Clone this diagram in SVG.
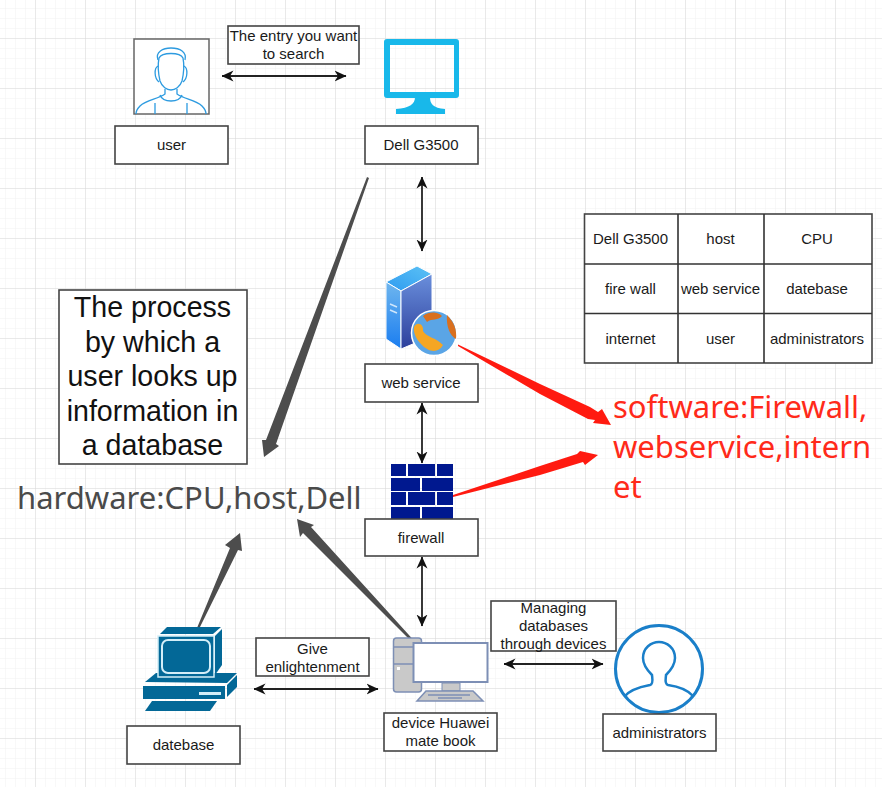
<svg xmlns="http://www.w3.org/2000/svg" width="882" height="787" viewBox="0 0 882 787">
<style>
.box{fill:#fff;stroke:#444;stroke-width:1.6}
.t{font-family:"Liberation Sans",Arial,sans-serif;font-size:15px;fill:#1a1a1a;text-anchor:middle}
.big{font-family:"Liberation Sans",Arial,sans-serif;font-size:28.6px;fill:#111;text-anchor:middle}
.cjk{font-family:"Noto Sans","Open Sans",sans-serif;font-size:31px}
.arr{fill:none;stroke:#222;stroke-width:1.8;marker-start:url(#ah);marker-end:url(#ah)}
.grey{fill:#4d4d4d}
.red{fill:#ff1a10}
.pl{fill:none;stroke:#2d9be0;stroke-width:1.3}
.teal{fill:#036897}
</style>
<defs>
<pattern id="minor" width="10" height="10" patternUnits="userSpaceOnUse" patternTransform="translate(5,8)">
<path d="M0,0H10M0,0V10" fill="none" stroke="#f1f1f1" stroke-width="1"/>
</pattern>
<pattern id="major" width="50" height="50" patternUnits="userSpaceOnUse" patternTransform="translate(35,38)">
<path d="M0,0H50M0,0V50" fill="none" stroke="#d9d9d9" stroke-width="1"/>
</pattern>
<marker id="ah" viewBox="0 0 12 12" refX="11.5" refY="6" markerWidth="12" markerHeight="12" markerUnits="userSpaceOnUse" orient="auto-start-reverse">
<path d="M0,0.500 L12,6 L0,11.500 L3.500,6 Z" fill="#111"/>
</marker>
<linearGradient id="srv" x1="0" y1="0" x2="0" y2="1"><stop offset="0" stop-color="#6fb6ee"/><stop offset="1" stop-color="#1a7df0"/></linearGradient>
<linearGradient id="srv2" x1="0" y1="0" x2="0" y2="1"><stop offset="0" stop-color="#6a8fdc"/><stop offset="1" stop-color="#2c3f9c"/></linearGradient>
<linearGradient id="srv3" x1="0" y1="1" x2="1" y2="0"><stop offset="0" stop-color="#2f9bf0"/><stop offset="1" stop-color="#5cc2f5"/></linearGradient>
</defs>
<rect width="882" height="787" fill="#fff"/>
<rect width="882" height="787" fill="url(#minor)"/>
<rect width="882" height="787" fill="url(#major)"/>

<g id="connectors">
<path class="arr" d="M222,76H346"/>
<path class="arr" d="M422,177V251"/>
<path class="arr" d="M422,403V463"/>
<path class="arr" d="M422,557V626"/>
<path class="arr" d="M254,689H378"/>
<path class="arr" d="M504,664H603"/>
<polygon class="grey" points="367,177 369,178 276,444 279,446 264,457 262,440 266,440"/>
<polygon class="grey" points="197,628 230,548 225,545 240,533 242,551 238,550 199,629"/>
<polygon class="grey" points="417,647 303,533 300,537 297,519 314,525 311,527 418,645"/>
<polygon class="red" points="458,344.500 540,384 590,407 598,412 602,409 611,425 593,423 595,420 588,419 540,394 458,346"/>
<polygon class="red" points="453,495 540,466 577,454 580,451 598,455 585,465 583,462 540,475 453,497"/>
</g>

<g id="user">
<rect x="134" y="39" width="75" height="75" fill="#fff" stroke="#666" stroke-width="1.5"/>
<path class="pl" d="M160,81C158,72 158,63 159,58C162,52 180,52 183,58C184,63 184,72 182,81C180,87 175,90 171,90C167,90 162,87 160,81Z"/>
<path class="pl" d="M158,60C155,52 163,48 171,48C180,48 187,52 185,60"/>
<path class="pl" d="M158,66C154,68 154,78 159,82M184,66C188,68 188,78 183,82"/>
<path class="pl" d="M165,89V94C158,99 146,100 140,106C137,109 136,112 136,114M177,89V94C184,99 196,100 202,106C205,109 206,112 206,114"/>
<path class="pl" d="M160,95C163,103 179,103 182,95M155,103V114M187,103V114"/>
</g>
<g id="user-label"><rect class="box" x="115" y="126" width="113" height="38"/><text class="t" x="171.500" y="150">user</text></g>

<g id="dell">
<path fill="#18b8ea" fill-rule="evenodd" d="M387,39H456a3,3 0 0 1 3,3V95a3,3 0 0 1 -3,3H387a3,3 0 0 1 -3,-3V42a3,3 0 0 1 3,-3ZM390,45V92H454V45Z"/>
<path fill="#18b8ea" d="M415,97H430C430,104 433,108 445,109V114H396V109C410,108 415,104 415,97Z"/>
</g>
<g id="dell-label"><rect class="box" x="365" y="126" width="113" height="38"/><text class="t" x="421" y="150">Dell G3500</text></g>

<g id="entry-label"><rect class="box" x="228" y="26" width="131" height="38"/><text class="t" x="293.500" y="41">The entry you want</text><text class="t" x="293.500" y="59">to search</text></g>

<g id="web-service">
<polygon points="386,282 417,266 432,274 401,291" fill="url(#srv3)" stroke="#fff" stroke-width="1"/>
<polygon points="386,282 401,291 401,349 386,339" fill="url(#srv)" stroke="#fff" stroke-width="1"/>
<polygon points="401,291 432,274 432,336 401,349" fill="url(#srv2)" stroke="#fff" stroke-width="1"/>
<path d="M390,304L397,307M390,310L397,313" stroke="#cfe6fb" stroke-width="1.500"/>
<circle cx="434" cy="333" r="22.500" fill="#5aa5e6" stroke="#fff" stroke-width="1.500"/>
<path d="M414,327C417,321 424,324 423,331C426,337 437,338 443,345C438,354 428,352 421,344C416,339 413,332 414,327Z" fill="#f5a623"/>
<path d="M423,316C430,311 438,312 442,316C438,321 432,318 427,322Z M447,315C454,322 457,330 456,339C450,336 446,326 447,315Z" fill="#d9701f"/>
</g>
<g id="web-service-label"><rect class="box" x="365" y="364" width="113" height="38"/><text class="t" x="421" y="388">web service</text></g>

<g id="firewall">
<path fill="#00188f" d="M391,464h15v12h-15zM408,464h27v12h-27zM437,464h16v12h-16zM391,478h29v13h-29zM422,478h31v13h-31zM391,492h15v13h-15zM408,492h27v13h-27zM437,492h16v13h-16zM391,507h29v12h-29zM422,507h31v12h-31z"/>
</g>
<g id="firewall-label"><rect class="box" x="365" y="519" width="113" height="37"/><text class="t" x="421" y="543">firewall</text></g>

<g id="device">
<rect x="393.500" y="638" width="28" height="54" rx="3" fill="#c9c9c9" stroke="#7d8fb5" stroke-width="1.500"/>
<path d="M393.500,647H414M393.500,664H414" stroke="#7d8fb5" stroke-width="1.500"/>
<rect x="397" y="667" width="3" height="3" fill="#fff"/>
<rect x="442" y="683" width="18" height="8" fill="#c9c9c9" stroke="#7d8fb5"/>
<rect x="413.500" y="643" width="74" height="39" fill="#fff" stroke="#7d8fb5" stroke-width="2"/>
<polygon points="426,691 473,691 483,701 417,701" fill="#c9c9c9" stroke="#7d8fb5" stroke-width="1.500"/>
<path d="M428,695H470M438,698H462" stroke="#7d8fb5" stroke-width="1.500"/>
</g>
<g id="device-label"><rect class="box" x="384" y="713" width="113" height="38"/><text class="t" x="440.500" y="728">device Huawei</text><text class="t" x="440.500" y="746">mate book</text></g>

<g id="datebase">
<polygon class="teal" points="160,634 167,627 221,627 213,634"/>
<polygon class="teal" points="215,636 222,629 222,665 215,675"/>
<polygon class="teal" points="145,682 156,673 237,673 227,683"/>
<rect class="teal" x="143" y="686" width="82" height="13"/>
<polygon class="teal" points="227,685 237,675 237,687 227,697"/>
<rect x="199" y="692" width="22" height="3" fill="#d4eef8"/>
<polygon class="teal" points="152,701 217,701 210,711 145,711"/>
<rect class="teal" x="158" y="636" width="56" height="41" stroke="#d4eef8" stroke-width="1.500"/>
<rect class="teal" x="162" y="640" width="48" height="33" rx="6" stroke="#d4eef8" stroke-width="2"/>
</g>
<g id="datebase-label"><rect class="box" x="127" y="726" width="113" height="38"/><text class="t" x="183.500" y="750">datebase</text></g>

<g id="give-label"><rect class="box" x="256" y="638" width="113" height="38"/><text class="t" x="312.500" y="654">Give</text><text class="t" x="312.500" y="672">enlightenment</text></g>
<g id="managing-label"><rect class="box" x="491" y="601" width="125" height="50"/><text class="t" x="553.500" y="613">Managing</text><text class="t" x="553.500" y="631">databases</text><text class="t" x="553.500" y="649">through devices</text></g>

<g id="administrators">
<circle cx="659" cy="669" r="43.500" fill="#fff" stroke="#1a7fc9" stroke-width="3"/>
<path fill="none" stroke="#1a7fc9" stroke-width="2.500" d="M625,696C632,688 645,686 650,685C654,684 652,677 652,675C646,669 643,662 643,658C643,648 651,642 659,642C667,642 675,648 675,658C675,662 672,669 666,675C666,678 664,684 668,685C675,686 686,688 693,696"/>
</g>
<g id="administrators-label"><rect class="box" x="603" y="714" width="113" height="37"/><text class="t" x="659.500" y="738">administrators</text></g>

<g id="process-box">
<rect class="box" x="59" y="290" width="188" height="174"/>
<text class="big" x="152.500" y="317">The process</text>
<text class="big" x="152.500" y="352">by which a</text>
<text class="big" x="152.500" y="386">user looks up</text>
<text class="big" x="152.500" y="421">information in</text>
<text class="big" x="152.500" y="455">a database</text>
</g>

<g id="hardware"><text class="cjk" x="17" y="509" fill="#4a4a4a">hardware:CPU,host,Dell</text></g>
<g id="software">
<text class="cjk" x="613" y="418" fill="#ff2a1a">software:Firewall,</text>
<text class="cjk" x="613" y="458" fill="#ff2a1a">webservice,intern</text>
<text class="cjk" x="613" y="498" fill="#ff2a1a">et</text>
</g>

<g id="table">
<rect class="box" x="584.500" y="214" width="287.500" height="149"/>
<path d="M678,214V363M764,214V363M584.500,264H872M584.500,313.500H872" stroke="#333" stroke-width="1.600" fill="none"/>
<text class="t" x="630.500" y="244">Dell G3500</text><text class="t" x="720.500" y="244">host</text><text class="t" x="817" y="244">CPU</text>
<text class="t" x="630.500" y="294">fire wall</text><text class="t" x="720.500" y="294">web service</text><text class="t" x="817" y="294">datebase</text>
<text class="t" x="630.500" y="344">internet</text><text class="t" x="720.500" y="344">user</text><text class="t" x="817" y="344">administrators</text>
</g>
</svg>
